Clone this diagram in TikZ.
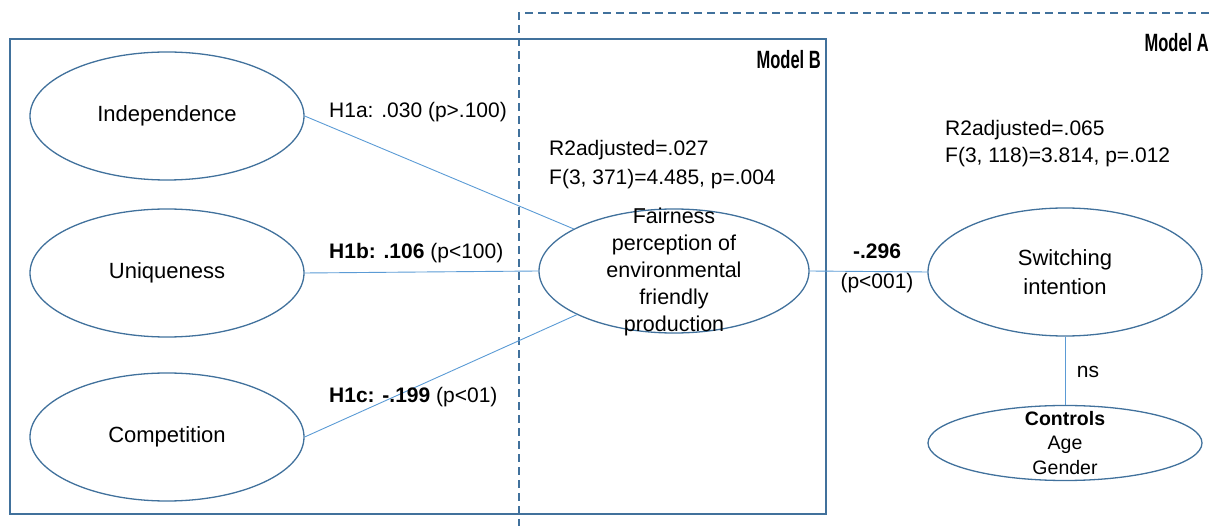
\documentclass[tikz,border=0pt]{standalone}
\usepackage{fontspec}
\setmainfont{Liberation Sans}
\usetikzlibrary{shapes.geometric}
\definecolor{boxblue}{RGB}{65,113,156}
\definecolor{linkblue}{RGB}{91,155,213}
\begin{document}
\begin{tikzpicture}[x=1pt,y=-1pt,
  every node/.style={font=\fontsize{21}{27}\selectfont, inner sep=0pt},
  construct/.style={ellipse, draw=boxblue, line width=1.3pt, minimum width=274pt, minimum height=128pt, font=\fontsize{22}{29}\selectfont},
  link/.style={draw=linkblue, line width=0.9pt},
  stat/.style={anchor=west, align=left},
  modeltitle/.style={anchor=east, font=\fontsize{25}{27}\selectfont\bfseries}
]
\useasboundingbox (0,0) rectangle (1211,526);
% Model A dashed frame
\draw[boxblue, line width=1.3pt, dash pattern=on 8pt off 5pt] (519,540) -- (519,13) -- (1220,13);
% Model B frame
\draw[boxblue, line width=2.2pt] (10,39) rectangle (826,514);
\node[modeltitle] (mb) at (821,60) {\scalebox{0.66}[1]{Model B}};
\node[modeltitle] (ma) at (1209,43) {\scalebox{0.66}[1]{Model A}};

% constructs
\node[construct] (ind) at (167,116) {Independence};
\node[construct] (uni) at (167,273) {Uniqueness};
\node[construct] (comp) at (167,437) {Competition};
\node[construct, minimum width=270pt, minimum height=124pt] (fair) at (674,271) {};
\node[align=center, font=\fontsize{21.5}{27.2}\selectfont] (fairtxt) at (674,272) {Fairness\\perception of\\environmental\\friendly\\production};
\node[construct, align=center] (sw) at (1065,272) {Switching\\intention};
\node[construct, minimum height=75pt] (ctrl) at (1065,443) {};
\node[align=center, font=\fontsize{19.5}{24.5}\selectfont] (ctrltxt) at (1065,443) {\textbf{Controls}\\Age\\Gender};

% connectors
\draw[link] (ind.east) -- (fair);
\draw[link] (uni.east) -- (fair.west);
\draw[link] (comp.east) -- (fair);
\draw[link] (fair.east) -- (sw.west);
\draw[link] (sw.south) -- (ctrl.north);

% labels
\node[stat] (h1a) at (329,112) {H1a: .030 (p>.100)};
\node[stat] (h1b) at (329,253) {\textbf{H1b: .106} (p<100)};
\node[stat] (h1c) at (329,397) {\textbf{H1c: -.199} (p<01)};
\node[stat, font=\fontsize{21}{29}\selectfont] (r2b) at (549,165) {R2adjusted=.027\\F(3, 371)=4.485, p=.004};
\node[stat, font=\fontsize{21}{27}\selectfont] (r2a) at (945,144) {R2adjusted=.065\\F(3, 118)=3.814, p=.012};
\node[align=center, font=\fontsize{21}{30}\selectfont] (beta) at (877,268) {\textbf{-.296}\\(p<001)};
\node (ns) at (1088,372) {ns};
\end{tikzpicture}
\end{document}
